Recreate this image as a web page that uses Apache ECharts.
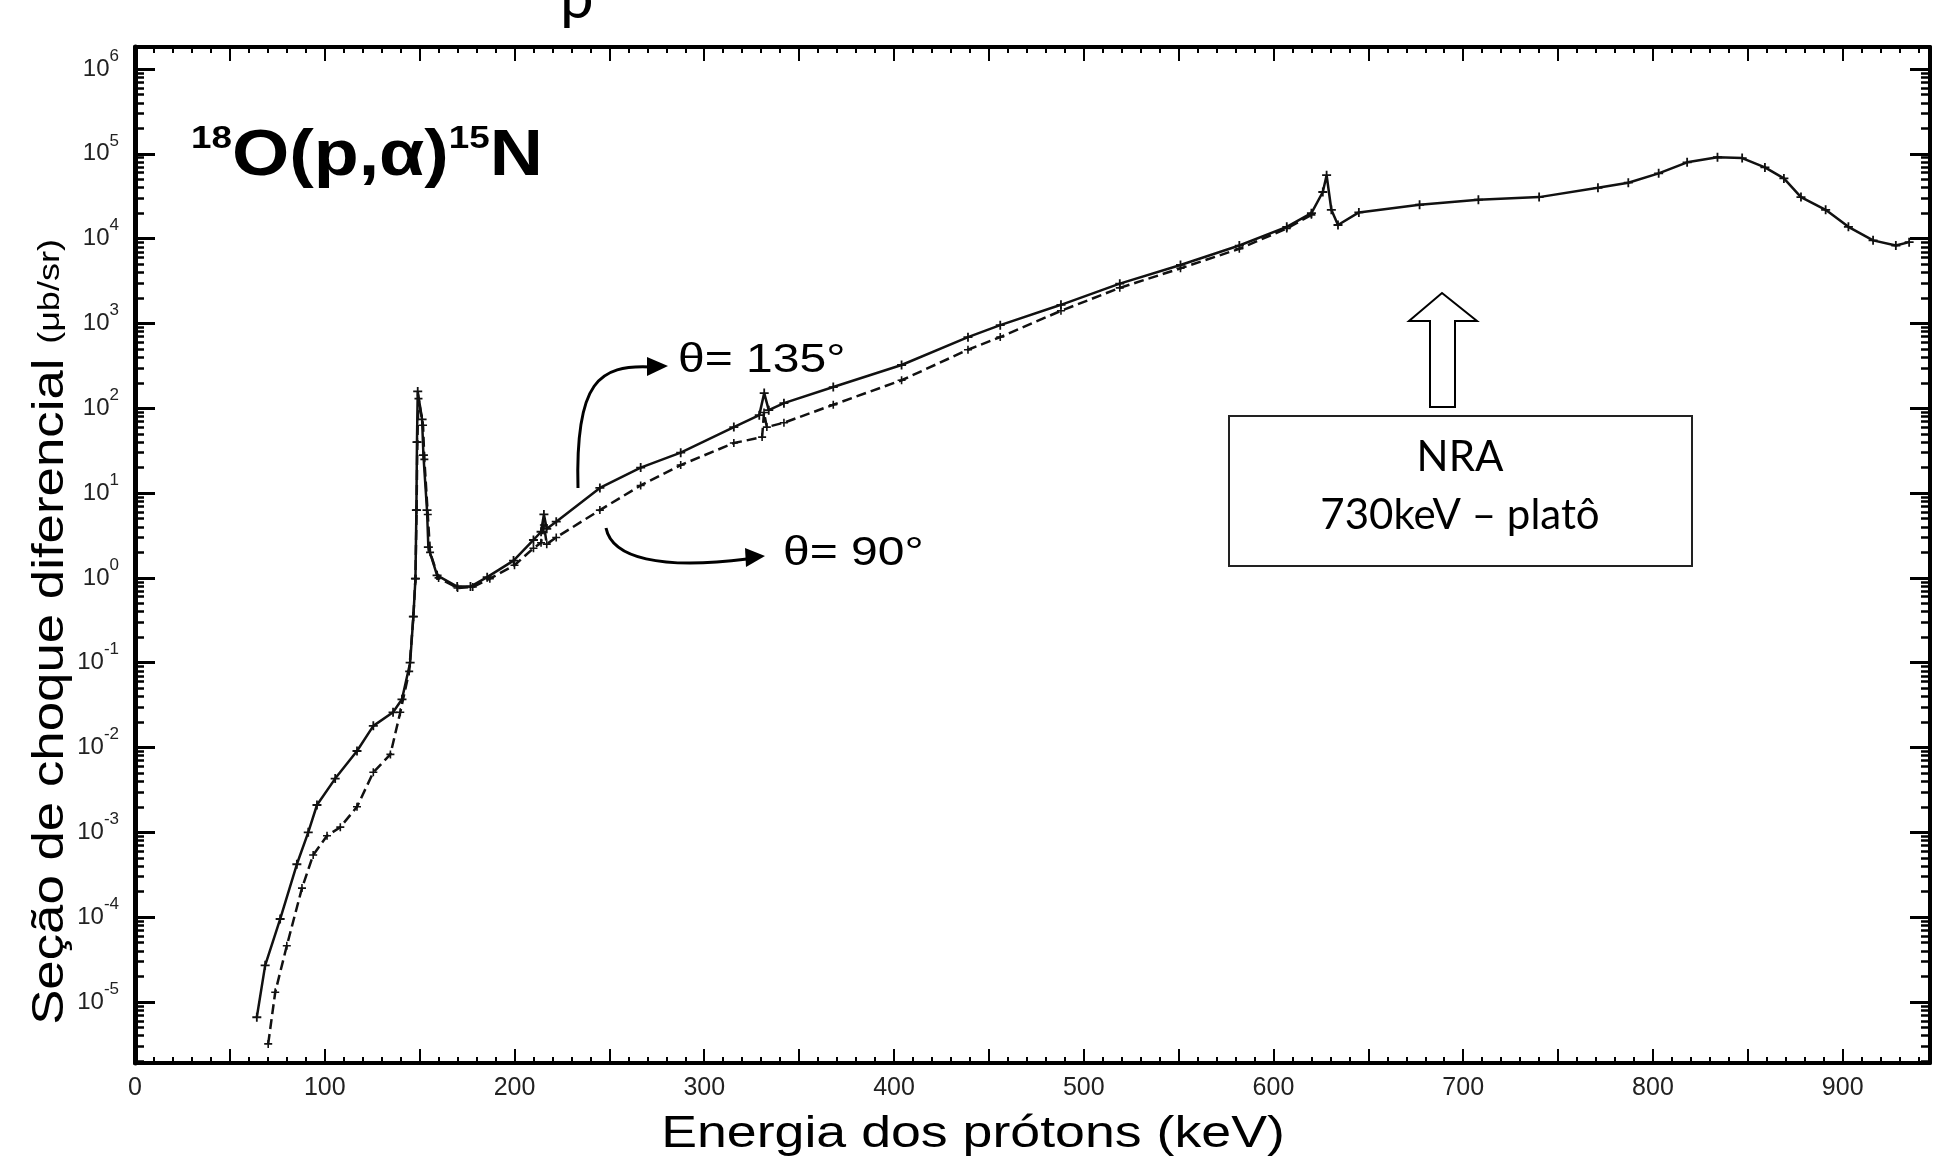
<!DOCTYPE html>
<html>
<head>
<meta charset="utf-8">
<title>18O(p,α)15N</title>
<script src="https://cdn.jsdelivr.net/npm/echarts@6/dist/echarts.min.js"></script>
<style>
    html, body { margin: 0; padding: 0; background: #fff; }
    #main { width: 1935px; height: 1165px; }
</style>
</head>
<body>
<div id="main"></div>
<script>
// valores: energia dos prótons (keV) e seção de choque (μb/sr)
var energia135 = [64.2, 68.6, 76.5, 85.3, 91.3, 95.9, 105.5, 117, 125.6, 136,
    140.7, 145, 146.7, 147.8, 148.3, 148.6, 149, 151.3, 152, 153.9,
    154.6, 159.2, 169.8, 176.8, 185.6, 199.5, 210, 214, 215.5, 217,
    222, 245, 266.5, 287.6, 315.6, 329, 331.6, 334, 342, 368,
    404, 439, 456, 488, 519, 551, 582, 607, 620, 626,
    628, 630.5, 634, 645, 677, 708, 740, 771, 787, 803,
    818, 834, 847, 859, 869, 878, 891, 903, 916, 928, 935];
var secao135 = [6.6e-6, 2.7e-5, 9.5e-5, 4.2e-4, 1.0e-3, 2.1e-3, 4.3e-3, 9.1e-3, 1.8e-2, 2.6e-2,
    3.7e-2, 0.10, 0.35, 0.98, 6.3, 40, 158, 74, 28, 6.3,
    2.3, 1.07, 0.79, 0.79, 1.02, 1.6, 2.8, 3.5, 5.6, 3.8,
    4.6, 11.5, 20, 30, 60, 83, 151, 95, 115, 178,
    324, 690, 955, 1660, 2950, 4900, 8300, 13800, 20000, 35500,
    56000, 21900, 14500, 20400, 25100, 28800, 30900, 39800, 45700, 58900,
    79400, 91200, 89100, 69200, 51300, 30900, 21900, 13800, 9550, 8300, 9100];

var energia90 = [70.2, 73.9, 80, 88, 93.9, 101.2, 108.2, 117, 125.6, 134.6,
    139.8, 144.5, 146.7, 147.8, 148.4, 148.8, 149.4, 151.8, 152.5, 154.3,
    155.5, 160, 170, 178, 187, 200, 210, 214, 215.5, 217,
    222, 245, 266.5, 287.6, 315.6, 330.5, 331.5, 333, 342, 368,
    404, 439, 456, 488, 519, 551, 582, 607, 620];
var secao90 = [3.2e-6, 1.3e-5, 4.6e-5, 2.2e-4, 5.4e-4, 9.1e-4, 1.15e-3, 2.0e-3, 5.1e-3, 8.3e-3,
    2.6e-2, 7.9e-2, 0.35, 0.98, 6.3, 40, 130, 63, 25, 5.6,
    2.0, 1.0, 0.76, 0.78, 0.98, 1.41, 2.24, 2.6, 4.2, 2.5,
    3.0, 6.3, 12.3, 21.4, 38.9, 45.7, 89, 60, 67.6, 110,
    214, 490, 692, 1410, 2630, 4470, 7590, 13200, 19100];

// marcas dos eixos
var rotulosX = [0, 100, 200, 300, 400, 500, 600, 700, 800, 900];
var decadas = [1e-5, 1e-4, 1e-3, 1e-2, 1e-1, 1, 10, 100, 1e3, 1e4, 1e5, 1e6];
var menores = [];
[1e-6, 1e-5, 1e-4, 1e-3, 1e-2, 1e-1, 1, 10, 100, 1e3, 1e4, 1e5, 1e6].forEach(function (d) {
    for (var k = 2; k <= 9; k++) menores.push(k * d);
});

var yMin = Math.pow(10, -5.72), yMax = Math.pow(10, 6.26);
var cruz = 'path://M4 0H6V10H4ZM0 4H10V6H0Z';
var fonteEixo = '"Liberation Sans Narrow", "Liberation Sans", sans-serif';

function pares(xs, ys) {
    return xs.map(function (x, i) { return [x, ys[i]]; });
}

var eixoY = function (pos, principal, comRotulo) {
    return {
        type: 'log', position: pos, min: yMin, max: yMax,
        axisLine: { show: principal, lineStyle: { color: '#000', width: pos === 'left' ? 5 : 4 } },
        axisTick: {
            show: true, inside: true,
            length: principal ? 20 : 9,
            customValues: principal ? decadas : menores,
            lineStyle: { color: '#000', width: principal ? 3 : 2.5 }
        },
        axisLabel: {
            show: comRotulo, margin: 16,
            customValues: decadas,
            formatter: function (v) {
                return '{b|10}{s|' + Math.round(Math.log10(v)) + '}';
            },
            rich: {
                b: { fontSize: 24, fontFamily: fonteEixo, color: '#222' },
                s: { fontSize: 17, fontFamily: fonteEixo, color: '#222', padding: [0, 0, 26, 0] }
            }
        },
        splitLine: { show: false }
    };
};

var eixoX = function (pos, comRotulo) {
    return {
        type: 'value', position: pos, min: 0, max: 946, interval: 50,
        axisLine: { lineStyle: { color: '#000', width: 4 } },
        axisTick: { inside: true, length: 14, lineStyle: { color: '#000', width: 2 } },
        minorTick: { show: true, splitNumber: 5, length: 6, lineStyle: { color: '#000', width: 2 } },
        axisLabel: {
            show: comRotulo, margin: 13, customValues: rotulosX,
            fontSize: 25, fontFamily: fonteEixo, color: '#222'
        },
        splitLine: { show: false }
    };
};

var myChart = echarts.init(document.getElementById('main'));
myChart.setOption({
    animation: false,
    backgroundColor: '#fff',
    grid: { left: 135, right: 5, top: 47, bottom: 102, outerBoundsMode: 'none' },
    xAxis: [eixoX('bottom', true), eixoX('top', false)],
    yAxis: [eixoY('left', true, true), eixoY('left', false, false),
            eixoY('right', true, false), eixoY('right', false, false)],
    series: [
        {
            name: 'θ = 135°', type: 'line', xAxisIndex: 0, yAxisIndex: 0,
            data: pares(energia135, secao135),
            symbol: cruz, symbolSize: 9,
            lineStyle: { color: '#111', width: 2.5 },
            itemStyle: { color: '#111' }
        },
        {
            name: 'θ = 90°', type: 'line', xAxisIndex: 0, yAxisIndex: 0,
            data: pares(energia90, secao90),
            symbol: cruz, symbolSize: 8,
            lineStyle: { color: '#111', width: 2.5, type: [10, 5] },
            itemStyle: { color: '#111' }
        }
    ],
    graphic: [
        // fragmento do título cortado no topo
        { type: 'text', x: 560, y: -31, style: { text: 'p', font: '60px Lato', fill: '#000' } },
        {
            type: 'text', x: 191, y: 157, scaleX: 1.15,
            style: {
                text: '{s|18}{b|O(p,α)}{s|15}{b|N}',
                verticalAlign: 'middle',
                rich: {
                    b: { fontSize: 64, fontWeight: 'bold', fontFamily: 'Liberation Sans', fill: '#000' },
                    s: { fontSize: 32, fontWeight: 'bold', fontFamily: 'Liberation Sans', fill: '#000', padding: [0, 0, 36, 0] }
                }
            }
        },
        { type: 'text', x: 678, y: 361, scaleX: 1.2, style: { text: 'θ= 135°', font: '40px "Liberation Sans"', fill: '#000', verticalAlign: 'middle' } },
        { type: 'text', x: 783, y: 554, scaleX: 1.2, style: { text: 'θ= 90°', font: '40px "Liberation Sans"', fill: '#000', verticalAlign: 'middle' } },
        { type: 'bezierCurve', shape: { x1: 578, y1: 488, cpx1: 575, cpy1: 380, cpx2: 600, cpy2: 365, x2: 650, y2: 367 }, style: { stroke: '#000', lineWidth: 3, fill: null } },
        { type: 'polygon', shape: { points: [[668, 366], [647, 357], [647, 376]] }, style: { fill: '#000' } },
        { type: 'bezierCurve', shape: { x1: 606, y1: 528, cpx1: 612, cpy1: 558, cpx2: 660, cpy2: 570, x2: 747, y2: 559 }, style: { stroke: '#000', lineWidth: 3, fill: null } },
        { type: 'polygon', shape: { points: [[765, 556], [745, 548], [746, 567]] }, style: { fill: '#000' } },
        {
            type: 'polygon',
            shape: { points: [[1442, 293], [1477, 321], [1455, 321], [1455, 407], [1430, 407], [1430, 321], [1409, 321]] },
            style: { fill: '#fff', stroke: '#000', lineWidth: 2 }
        },
        { type: 'rect', shape: { x: 1229, y: 416, width: 463, height: 150 }, style: { fill: '#fff', stroke: '#222', lineWidth: 2 } },
        { type: 'text', x: 1460, y: 457, style: { text: 'NRA', font: '42px Lato', fill: '#000', align: 'center', verticalAlign: 'middle' } },
        { type: 'text', x: 1460, y: 515, style: { text: '730keV – platô', font: '42px Lato', fill: '#000', align: 'center', verticalAlign: 'middle' } },
        {
            type: 'text', x: 973, y: 1135, scaleX: 1.22,
            style: { text: 'Energia dos prótons (keV)', font: '44px "Liberation Sans"', fill: '#000', align: 'center', verticalAlign: 'middle' }
        },
        {
            type: 'text', x: 51, y: 632, rotation: Math.PI / 2, scaleX: 1.2,
            style: {
                text: '{a|Seção de choque diferencial }{b|(μb/sr)}',
                align: 'center', verticalAlign: 'middle',
                rich: {
                    a: { fontSize: 44, fontFamily: 'Liberation Sans', fill: '#000' },
                    b: { fontSize: 30, fontFamily: 'Liberation Sans', fill: '#000' }
                }
            }
        }
    ]
});
</script>
</body>
</html>
